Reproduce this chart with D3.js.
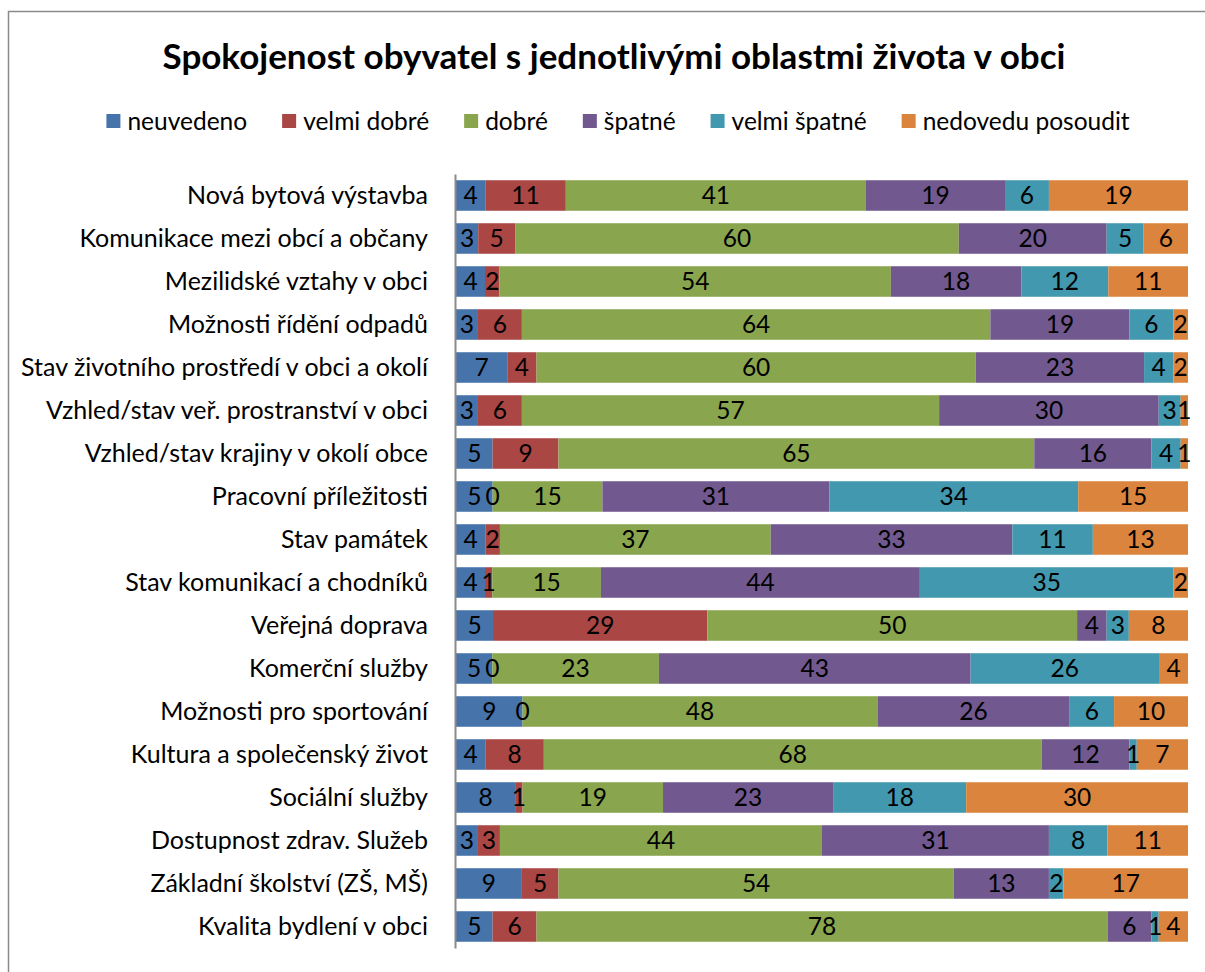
<!DOCTYPE html>
<html>
<head>
<meta charset="utf-8">
<script src="https://cdn.jsdelivr.net/npm/d3@7"></script>
<style>
  html, body { margin: 0; padding: 0; background: #fff; }
  svg { display: block; }
  text { font-family: Lato, "Open Sans", sans-serif; fill: #000; }
</style>
</head>
<body>
<svg id="chart" width="1205" height="972"></svg>
<script>
const title = "Spokojenost obyvatel s jednotlivými oblastmi života v obci";
const categories = [
  "Nová bytová výstavba",
  "Komunikace mezi obcí a občany",
  "Mezilidské vztahy v obci",
  "Možnosti řídění odpadů",
  "Stav životního prostředí v obci a okolí",
  "Vzhled/stav veř. prostranství v obci",
  "Vzhled/stav krajiny v okolí obce",
  "Pracovní příležitosti",
  "Stav památek",
  "Stav komunikací a chodníků",
  "Veřejná doprava",
  "Komerční služby",
  "Možnosti pro sportování",
  "Kultura a společenský život",
  "Sociální služby",
  "Dostupnost zdrav. Služeb",
  "Základní školství (ZŠ, MŠ)",
  "Kvalita bydlení v obci"
];
const seriesNames = ["neuvedeno", "velmi dobré", "dobré", "špatné", "velmi špatné", "nedovedu posoudit"];
const neuvedeno   = [4, 3, 4, 3, 7, 3, 5, 5, 4, 4, 5, 5, 9, 4, 8, 3, 9, 5];
const velmiDobre  = [11, 5, 2, 6, 4, 6, 9, 0, 2, 1, 29, 0, 0, 8, 1, 3, 5, 6];
const dobre       = [41, 60, 54, 64, 60, 57, 65, 15, 37, 15, 50, 23, 48, 68, 19, 44, 54, 78];
const spatne      = [19, 20, 18, 19, 23, 30, 16, 31, 33, 44, 4, 43, 26, 12, 23, 31, 13, 6];
const velmiSpatne = [6, 5, 12, 6, 4, 3, 4, 34, 11, 35, 3, 26, 6, 1, 18, 8, 2, 1];
const nedovedu    = [19, 6, 11, 2, 2, 1, 1, 15, 13, 2, 8, 4, 10, 7, 30, 11, 17, 4];
const seriesValues = [neuvedeno, velmiDobre, dobre, spatne, velmiSpatne, nedovedu];
const colors = ["#4673AA", "#AA4644", "#89A54E", "#71588F", "#4298AF", "#DB843D"];

const rows = categories.map((c, i) => {
  const r = { category: c };
  seriesNames.forEach((s, j) => r[s] = seriesValues[j][i]);
  return r;
});

const svg = d3.select("#chart");

// chart frame (cropped at right and bottom)
svg.append("rect")
  .attr("x", 8.5).attr("y", 11.5)
  .attr("width", 1300).attr("height", 1100)
  .attr("fill", "none").attr("stroke", "#8a8a8a").attr("stroke-width", 1.5);

// title
svg.append("text")
  .attr("x", 614).attr("y", 69)
  .attr("text-anchor", "middle")
  .style("font-size", "35px").style("font-weight", "bold")
  .text(title);

const x = d3.scaleLinear().domain([0, 1]).range([456, 1188]);
const y = d3.scaleBand().domain(categories).range([174, 948]).paddingInner(0.29).paddingOuter(0.145);
const color = d3.scaleOrdinal().domain(seriesNames).range(colors);

const stacked = d3.stack().keys(seriesNames).offset(d3.stackOffsetExpand)(rows);

const layers = svg.append("g").selectAll("g.layer")
  .data(stacked).join("g").attr("class", "layer")
  .attr("fill", d => color(d.key));

layers.selectAll("rect")
  .data(d => d)
  .join("rect")
  .attr("x", d => x(d[0]))
  .attr("y", d => y(d.data.category))
  .attr("width", d => Math.max(0, x(d[1]) - x(d[0])))
  .attr("height", y.bandwidth());

// data labels
const labelG = svg.append("g");
stacked.forEach(layer => {
  layer.forEach(d => {
    labelG.append("text")
      .attr("x", (x(d[0]) + x(d[1])) / 2)
      .attr("y", y(d.data.category) + y.bandwidth() / 2)
      .attr("dy", "0.36em")
      .attr("text-anchor", "middle")
      .style("font-size", "24.5px")
      .text(d.data[layer.key]);
  });
});

// y axis (category labels, no ticks)
const yAxis = svg.append("g")
  .attr("transform", "translate(455,0)")
  .call(d3.axisLeft(y).tickSize(0).tickPadding(27));
yAxis.select(".domain").attr("stroke", "#8a8a8a").attr("stroke-width", 2);
yAxis.selectAll(".tick text")
  .style("font-family", "Lato, 'Open Sans', sans-serif")
  .style("font-size", "25px").attr("fill", "#000");

// legend
const legend = svg.append("g");
let lx = 0;
seriesNames.forEach((s, i) => {
  const g = legend.append("g");
  g.append("rect").attr("x", 0).attr("y", -7).attr("width", 14).attr("height", 14).attr("fill", colors[i]);
  const t = g.append("text").attr("x", 21).attr("y", 0).attr("dy", "0.36em")
    .style("font-size", "24.5px").text(s);
  const w = 21 + t.node().getComputedTextLength();
  g.attr("transform", `translate(${lx},0)`);
  lx += w + 35;
});
const legendWidth = lx - 35;
legend.attr("transform", `translate(${618 - legendWidth / 2},121)`);
</script>
</body>
</html>
